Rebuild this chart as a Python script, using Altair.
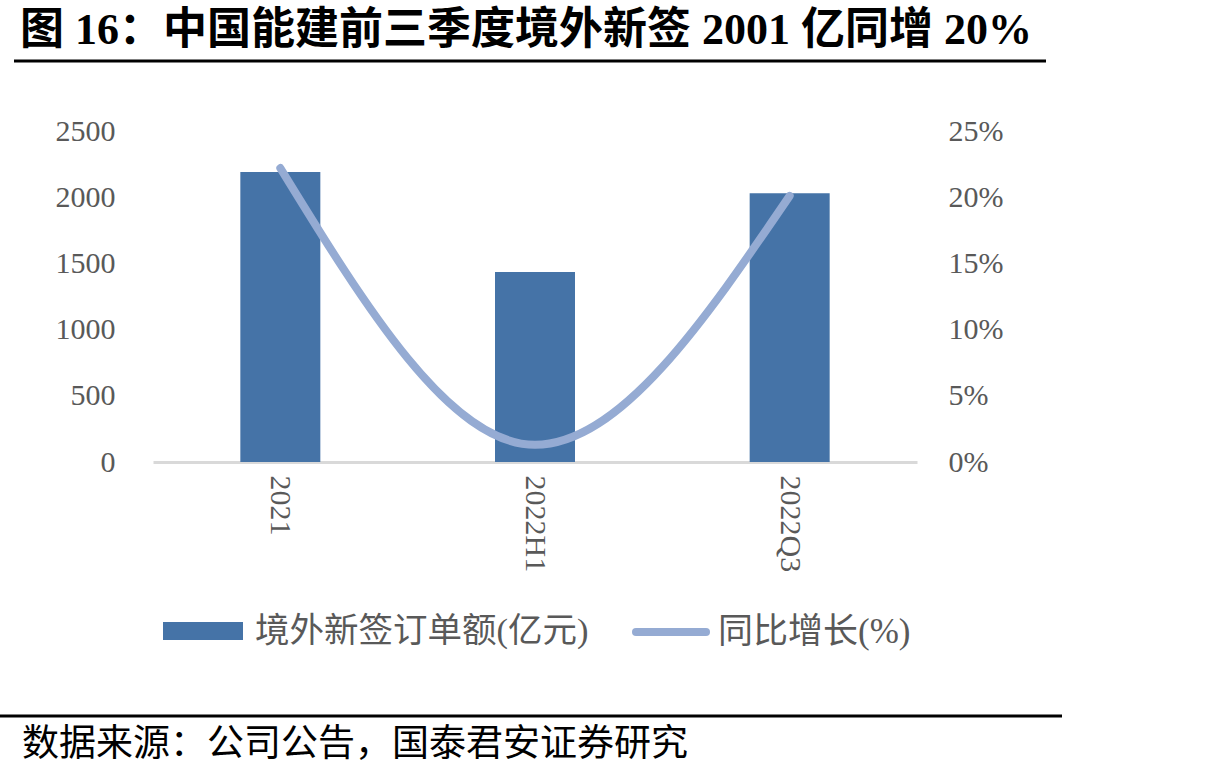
import altair as alt
import pandas as pd

categories = ["2021", "2022H1", "2022Q3"]
orders = [2190, 1435, 2030]
yoy = [0.222, 0.013, 0.201]

BAR_C = "#4573A7"
LINE_C = "#95ABD3"
GRAY = "#595959"
SERIF = "Liberation Serif, Noto Sans CJK SC"

df = pd.DataFrame({"cat": categories, "orders": orders, "yoy": yoy})

xenc = alt.X(
    "cat:N", sort=categories, title=None,
    scale=alt.Scale(paddingInner=0, paddingOuter=0),
    axis=alt.Axis(labelAngle=90, labelAlign="left", labelBaseline="middle",
                  labelPadding=13, ticks=False, domainColor="#D9D9D9",
                  domainWidth=3, labelFont=SERIF, labelFontSize=30,
                  labelColor=GRAY, grid=False),
)

bars = alt.Chart(df).mark_bar(size=80, color=BAR_C).encode(
    x=xenc,
    y=alt.Y("orders:Q", title=None,
            scale=alt.Scale(domain=[0, 2500], nice=False),
            axis=alt.Axis(values=[0, 500, 1000, 1500, 2000, 2500], ticks=False,
                          format="d",
                          domain=False, grid=False, labelPadding=38,
                          labelFont=SERIF, labelFontSize=30, labelColor=GRAY)),
)

line = alt.Chart(df).mark_line(color=LINE_C, strokeWidth=8, interpolate="monotone",
                               strokeCap="round").encode(
    x=alt.X("cat:N", sort=categories),
    y=alt.Y("yoy:Q", title=None,
            scale=alt.Scale(domain=[0, 0.25], nice=False),
            axis=alt.Axis(orient="right", format=".0%",
                          values=[0, 0.05, 0.10, 0.15, 0.20, 0.25], ticks=False,
                          domain=False, grid=False, labelPadding=31,
                          labelAlign="left",
                          labelFont=SERIF, labelFontSize=30, labelColor=GRAY)),
)

one = pd.DataFrame({"a": [0]})

title_txt = alt.Chart(one).mark_text(
    text="图 16：中国能建前三季度境外新签 2001 亿同增 20%", font=SERIF,
    fontSize=44, fontWeight="bold", align="left", baseline="middle", color="black",
).encode(x=alt.value(-133), y=alt.value(-100))

title_rule = alt.Chart(one).mark_rule(color="black", strokeWidth=3).encode(
    x=alt.value(-139), x2=alt.value(893), y=alt.value(-70))

foot_rule = alt.Chart(one).mark_rule(color="black", strokeWidth=3).encode(
    x=alt.value(-153), x2=alt.value(909), y=alt.value(585))

source_txt = alt.Chart(one).mark_text(
    text="数据来源：公司公告，国泰君安证券研究", font=SERIF, fontSize=37,
    align="left", baseline="middle", color="black",
).encode(x=alt.value(-131), y=alt.value(614))

leg_rect = alt.Chart(one).mark_rect(color=BAR_C).encode(
    x=alt.value(10), x2=alt.value(90), y=alt.value(491), y2=alt.value(509))
leg_txt1 = alt.Chart(one).mark_text(
    text="境外新签订单额(亿元)", font=SERIF, fontSize=34.5, align="left",
    baseline="middle", color=GRAY,
).encode(x=alt.value(102), y=alt.value(501))
leg_line = alt.Chart(one).mark_rule(color=LINE_C, strokeWidth=8, strokeCap="round").encode(
    x=alt.value(483), x2=alt.value(553), y=alt.value(501))
leg_txt2 = alt.Chart(one).mark_text(
    text="同比增长(%)", font=SERIF, fontSize=35, align="left",
    baseline="middle", color=GRAY,
).encode(x=alt.value(565), y=alt.value(501))

main = alt.layer(bars, line).resolve_scale(y="independent")

chart = alt.layer(
    main, title_txt, title_rule, foot_rule, source_txt,
    leg_rect, leg_txt1, leg_line, leg_txt2,
).properties(
    width=764, height=331,
    background="white",
    autosize=alt.AutoSizeParams(type="none"),
    padding={"left": 153, "top": 131, "right": 306, "bottom": 316},
).configure_view(stroke="transparent", strokeWidth=0)

chart.save("out.html", embed_options={"renderer": "svg", "actions": False})
